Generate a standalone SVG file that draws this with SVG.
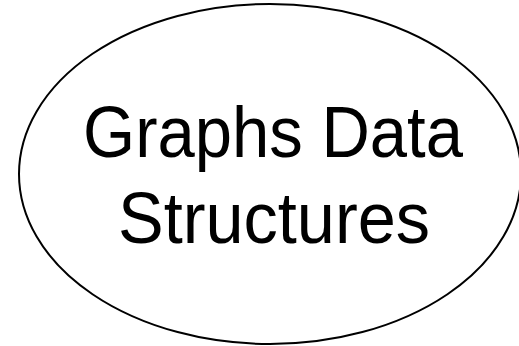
<svg xmlns="http://www.w3.org/2000/svg" width="519" height="346" viewBox="0 0 519 346">
<style>
.shape{fill:#fff;stroke:#000;stroke-width:2}
.lbl{font-family:"Liberation Sans",Arial,sans-serif;font-size:72px;fill:#000;text-anchor:middle}
</style>
<rect width="519" height="346" fill="#fff"/>
<g id="node-graphs">
<ellipse class="shape" cx="270" cy="174" rx="251" ry="170"/>
<text class="lbl" x="273" y="157" textLength="380" lengthAdjust="spacingAndGlyphs">Graphs Data</text>
<text class="lbl" x="274" y="243" textLength="312" lengthAdjust="spacingAndGlyphs">Structures</text>
</g>
<g id="connectors"></g>
</svg>
